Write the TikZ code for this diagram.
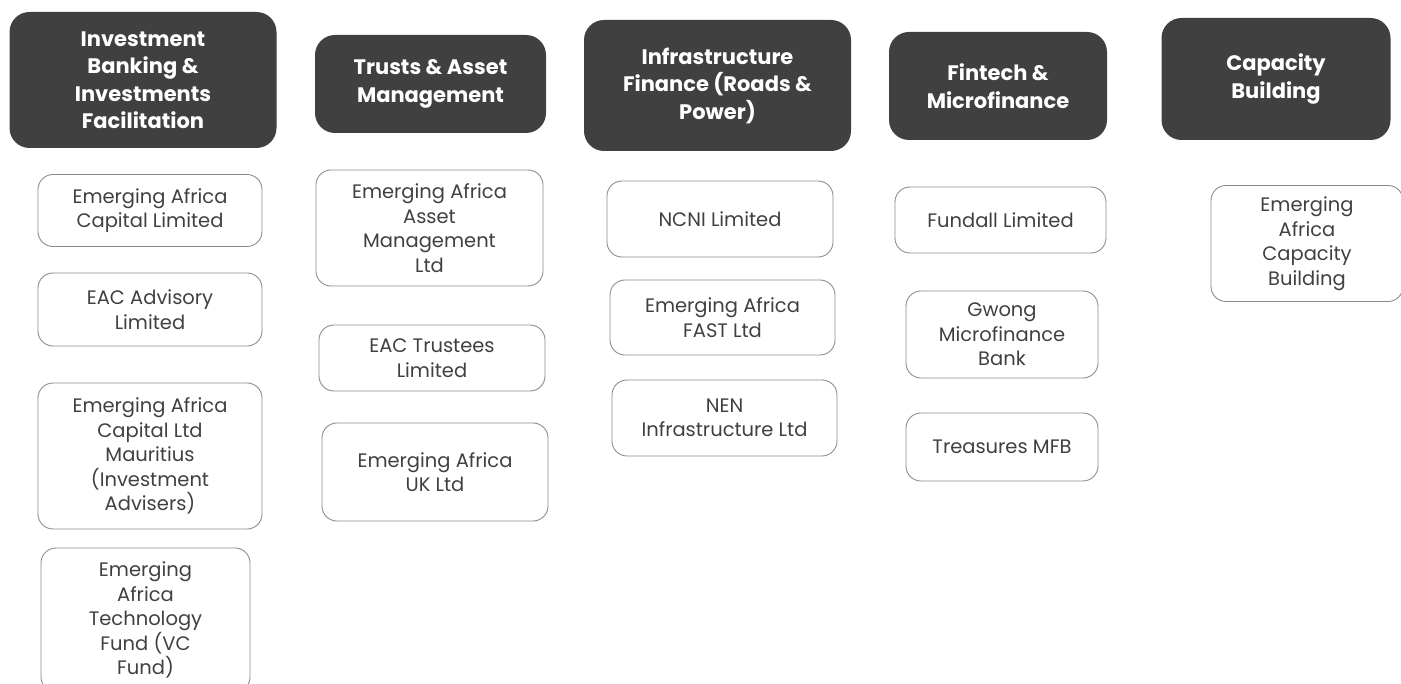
\documentclass[tikz,border=0pt]{standalone}
\usepackage{fontspec}
\setmainfont{Poppins}
\usepackage{xcolor}
\usetikzlibrary{positioning}
\definecolor{headgray}{HTML}{404040}
\definecolor{subline}{HTML}{8C8C8C}
\definecolor{subtext}{HTML}{404040}

\begin{document}
\begin{tikzpicture}[
    x=1pt,y=-1pt,
    head/.style={fill=headgray,rounded corners=20pt,align=center,inner sep=0pt,
      text=white,font=\fontsize{21}{27.5}\selectfont\bfseries},
    sub/.style={draw=subline,line width=0.9pt,rounded corners=15pt,align=center,inner sep=0pt,
      text=subtext,font=\fontsize{19.5}{24.5}\selectfont}
  ]
    \useasboundingbox (0,0) rectangle (1401,684);
    \clip (0,0) rectangle (1401,684);

    % business lines
    \node[head,minimum width=267pt,minimum height=136pt] (ib) at (143,80) {Investment\\Banking \&\\Investments\\Facilitation};
    \node[head,minimum width=231pt,minimum height=98pt] (trust) at (430.5,84) {Trusts \& Asset\\Management};
    \node[head,minimum width=267pt,minimum height=131pt] (infra) at (717.5,85.5) {Infrastructure\\Finance (Roads \&\\Power)};
    \node[head,minimum width=218pt,minimum height=108pt] (fin) at (998,86) {Fintech \&\\Microfinance};
    \node[head,minimum width=229pt,minimum height=122pt] (cap) at (1276,79) {Capacity\\Building};

    % investment banking
    \node[sub,minimum width=224pt,minimum height=72pt] (eacl) at (150,210.5) {Emerging Africa\\Capital Limited};
    \node[sub,minimum width=224pt,minimum height=73pt] (adv) at (150,309.5) {EAC Advisory\\Limited};
    \node[sub,minimum width=224pt,minimum height=146pt] (maur) at (150,456) {Emerging Africa\\Capital Ltd\\Mauritius\\(Investment\\Advisers)};
    \node[sub,minimum width=209pt,minimum height=144pt] (tech) at (145.5,620) {Emerging\\Africa\\Technology\\Fund (VC\\Fund)};

    % trusts
    \node[sub,minimum width=227pt,minimum height=116pt] (asset) at (429.5,228) {Emerging Africa\\Asset\\Management\\Ltd};
    \node[sub,minimum width=226pt,minimum height=66pt] (trustees) at (432,358) {EAC Trustees\\Limited};
    \node[sub,minimum width=226pt,minimum height=98pt] (uk) at (435,472) {Emerging Africa\\UK Ltd};

    % infrastructure
    \node[sub,minimum width=226pt,minimum height=76pt] (ncni) at (720,219) {NCNI Limited};
    \node[sub,minimum width=225pt,minimum height=75pt] (fast) at (722.5,317.5) {Emerging Africa\\FAST Ltd};
    \node[sub,minimum width=225pt,minimum height=76pt] (nen) at (724.5,418) {NEN\\Infrastructure Ltd};

    % fintech
    \node[sub,minimum width=211pt,minimum height=66pt] (fundall) at (1000.5,220) {Fundall Limited};
    \node[sub,minimum width=192pt,minimum height=87pt] (gwong) at (1002,334.5) {Gwong\\Microfinance\\Bank};
    \node[sub,minimum width=192pt,minimum height=68pt] (treas) at (1002,447) {Treasures MFB};

    % capacity building
    \node[sub,minimum width=192pt,minimum height=116pt] (eacb) at (1307,243.5) {Emerging\\Africa\\Capacity\\Building};
\end{tikzpicture}
\end{document}
